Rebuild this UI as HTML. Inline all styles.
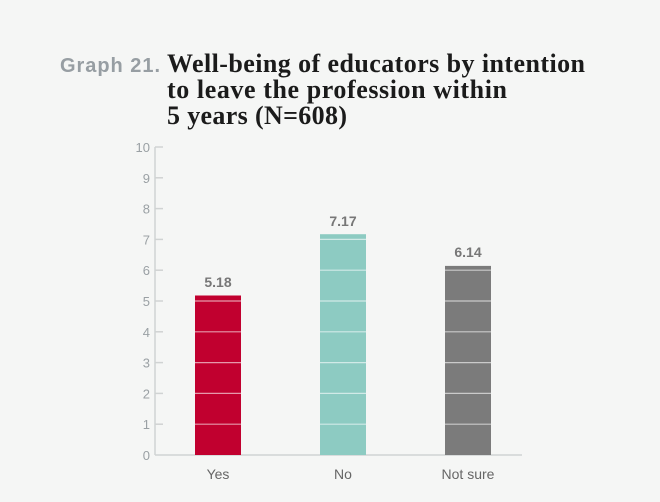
<!DOCTYPE html><html><head><style>body{margin:0;background:#f5f6f5;width:660px;height:497px;overflow:hidden}</style></head><body>
<svg width="660" height="497" xmlns="http://www.w3.org/2000/svg">
<rect width="660" height="497" fill="#f5f6f5"/>
<text x="60" y="72" font-family="Liberation Sans, sans-serif" font-weight="bold" font-size="20" fill="#979ea3" textLength="100">Graph 21.</text>
<g font-family="Liberation Serif, serif" font-weight="bold" font-size="26" fill="#1b1b1b">
<text x="167" y="72" textLength="418">Well-being of educators by intention</text>
<text x="167" y="98" textLength="340">to leave the profession within</text>
<text x="167" y="124" textLength="180">5 years (N=608)</text></g>
<g stroke="#d0d3d3" stroke-width="1.5">
<line x1="155" y1="147" x2="155" y2="455"/><line x1="155" y1="455" x2="522" y2="455"/>
<line x1="155" x2="163" y1="147" y2="147"/><line x1="155" x2="163" y1="177.8" y2="177.8"/>
<line x1="155" x2="163" y1="208.6" y2="208.6"/><line x1="155" x2="163" y1="239.4" y2="239.4"/>
<line x1="155" x2="163" y1="270.2" y2="270.2"/><line x1="155" x2="163" y1="301" y2="301"/>
<line x1="155" x2="163" y1="331.8" y2="331.8"/><line x1="155" x2="163" y1="362.6" y2="362.6"/>
<line x1="155" x2="163" y1="393.4" y2="393.4"/><line x1="155" x2="163" y1="424.2" y2="424.2"/>
</g>
<g font-family="Liberation Sans, sans-serif" font-size="13" fill="#9aa0a4" text-anchor="end">
<text x="150" y="152">10</text><text x="150" y="182.8">9</text><text x="150" y="213.6">8</text><text x="150" y="244.4">7</text><text x="150" y="275.2">6</text><text x="150" y="306">5</text><text x="150" y="336.8">4</text><text x="150" y="367.6">3</text><text x="150" y="398.4">2</text><text x="150" y="429.2">1</text><text x="150" y="460">0</text>
</g>
<rect x="195" y="295.5" width="46" height="159.5" fill="#c1002f"/>
<rect x="320" y="234.2" width="46" height="220.8" fill="#8dcbc2"/>
<rect x="445" y="265.9" width="46" height="189.1" fill="#7b7b7b"/>
<g stroke="#ffffff" stroke-opacity="0.6" stroke-width="1.2">
<line x1="195" x2="241" y1="301" y2="301"/><line x1="195" x2="241" y1="331.8" y2="331.8"/><line x1="195" x2="241" y1="362.6" y2="362.6"/><line x1="195" x2="241" y1="393.4" y2="393.4"/><line x1="195" x2="241" y1="424.2" y2="424.2"/>
<line x1="320" x2="366" y1="239.4" y2="239.4"/><line x1="320" x2="366" y1="270.2" y2="270.2"/><line x1="320" x2="366" y1="301" y2="301"/><line x1="320" x2="366" y1="331.8" y2="331.8"/><line x1="320" x2="366" y1="362.6" y2="362.6"/><line x1="320" x2="366" y1="393.4" y2="393.4"/><line x1="320" x2="366" y1="424.2" y2="424.2"/>
<line x1="445" x2="491" y1="270.2" y2="270.2"/><line x1="445" x2="491" y1="301" y2="301"/><line x1="445" x2="491" y1="331.8" y2="331.8"/><line x1="445" x2="491" y1="362.6" y2="362.6"/><line x1="445" x2="491" y1="393.4" y2="393.4"/><line x1="445" x2="491" y1="424.2" y2="424.2"/>
</g>
<g font-family="Liberation Sans, sans-serif" font-weight="bold" font-size="14" fill="#777" text-anchor="middle">
<text x="218" y="287">5.18</text><text x="343" y="226">7.17</text><text x="468" y="257">6.14</text></g>
<g font-family="Liberation Sans, sans-serif" font-size="14" fill="#666" text-anchor="middle">
<text x="218" y="479">Yes</text><text x="343" y="479">No</text><text x="468" y="479">Not sure</text></g>
</svg></body></html>
